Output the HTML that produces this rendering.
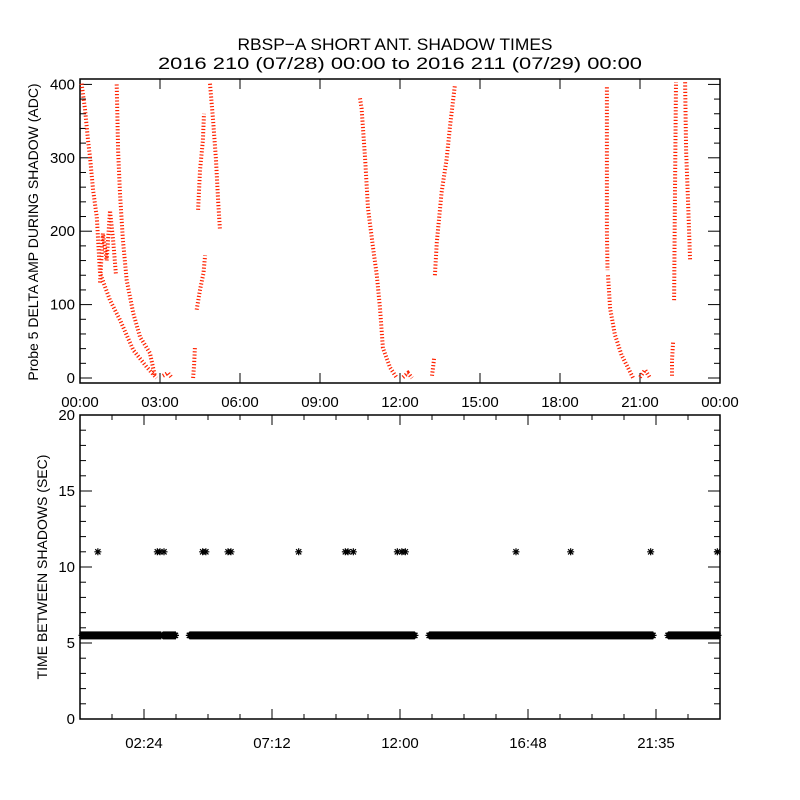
<!DOCTYPE html>
<html><head><meta charset="utf-8"><style>
html,body{margin:0;padding:0;background:#fff;}
svg{display:block;font-family:"Liberation Sans",sans-serif;}
</style></head><body>
<svg id="chart" width="800" height="800" viewBox="0 0 800 800" xmlns="http://www.w3.org/2000/svg">
<rect width="800" height="800" fill="#fff"/>
<text x="395" y="50" font-size="17" text-anchor="middle" textLength="315" lengthAdjust="spacingAndGlyphs">RBSP−A SHORT ANT. SHADOW TIMES</text>
<text x="400" y="69" font-size="17" text-anchor="middle" textLength="484" lengthAdjust="spacingAndGlyphs">2016 210 (07/28) 00:00 to 2016 211 (07/29) 00:00</text>
<g id="topPanel"></g>
<g id="botPanel"></g>
</svg>
<script>
// ---- top panel data (hours, ADC) ----
const topXTicks = ["00:00","03:00","06:00","09:00","12:00","15:00","18:00","21:00","00:00"];
const topYTicks = [0,100,200,300,400];
const clusterA1 = [[0.06,401],[0.19,365],[0.3,324],[0.375,301],[0.49,256],[0.63,219],[0.75,143],[1.125,106],[1.5,79],[2.0,38],[2.5,15],[2.87,0]];
const clusterA2 = [[0.75,130],[0.86,197],[1.0,160],[1.125,228],[1.24,188],[1.35,140]];
const clusterA3 = [[1.375,400],[1.43,310],[1.5,251],[1.61,188],[1.75,133],[2.0,88],[2.25,56],[2.62,34],[2.8,4]];
const clusterB = [[3.11,3],[3.3,7],[3.45,0]];
const clusterC1 = [[4.24,0],[4.28,18],[4.31,41]];
const clusterC2 = [[4.375,93],[4.5,120],[4.63,143],[4.69,167]];
const clusterC3 = [[4.43,229],[4.5,283],[4.61,324],[4.65,360]];
const clusterC4 = [[4.875,401],[4.99,351],[5.1,297],[5.18,242],[5.25,201]];
const clusterD1 = [[10.5,381],[10.56,367],[10.69,299],[10.8,231],[10.99,177],[11.13,140],[11.25,95],[11.36,41],[11.63,14],[11.88,0]];
const clusterD2 = [[12.11,1],[12.3,7],[12.45,0]];
const clusterE1 = [[13.2,3],[13.24,15],[13.28,27]];
const clusterE2 = [[13.31,140],[13.38,185],[13.56,253],[13.75,299],[13.88,344],[14.06,399]];
const clusterF1 = [[19.76,396],[19.76,310],[19.76,201],[19.78,147]];
const clusterF2 = [[19.8,140],[19.88,95],[20.06,59],[20.31,31],[20.55,14],[20.74,0]];
const clusterF3 = [[21.0,1],[21.19,11],[21.38,0]];
const clusterG1 = [[22.2,3],[22.2,24],[22.24,49]];
const clusterG2 = [[22.28,106],[22.31,242],[22.35,403]];
const clusterH = [[22.69,403],[22.73,310],[22.8,242],[22.88,160]];
// ---- bottom panel data ----
const botXTicks = ["02:24","07:12","12:00","16:48","21:35"];
const botYTicks = [0,5,10,15,20];
const bandValue = 5.5;
const bandIntervals = [[0,3.05],[3.1,3.6],[4.1,12.56],[13.09,21.5],[22.05,24]];
const longGapTimes = [0.67,2.9,3.0,3.15,4.6,4.72,5.55,5.66,8.2,9.95,10.05,10.25,11.9,12.07,12.2,16.35,18.4,21.4,23.9];
const longGapValue = 11;

const NS="http://www.w3.org/2000/svg";
function mk(tag,attrs,parent){const e=document.createElementNS(NS,tag);for(const k in attrs)e.setAttribute(k,attrs[k]);parent.appendChild(e);return e;}
const L=80,R=720;
const xH=h=>L+h/24*(R-L);
// top axis
const tT=79,tB=383;
const yTop=v=>378-v*0.734;
const topG=document.getElementById('topPanel');
const tf=mk('rect',{x:L,y:tT,width:R-L,height:tB-tT,fill:'none',stroke:'#000','stroke-width':1.5},topG);


topXTicks.forEach((t,i)=>{const x=L+i*(R-L)/8;
 mk('line',{x1:x,x2:x,y1:tB,y2:tB-10,stroke:'#000'},topG);
 mk('line',{x1:x,x2:x,y1:tT,y2:tT+10,stroke:'#000'},topG);
 const tx=mk('text',{x:x,y:407,'font-size':15,'text-anchor':'middle'},topG);tx.textContent=t;
 
 
});
for(let v=0;v<=400;v+=20){const y=yTop(v);const len=v%100===0?12:6;
 mk('line',{x1:L,x2:L+len,y1:y,y2:y,stroke:'#000'},topG);
 mk('line',{x1:R,x2:R-len,y1:y,y2:y,stroke:'#000'},topG);}
topYTicks.forEach(v=>{const tx=mk('text',{x:75,y:yTop(v)+5,'font-size':15,'text-anchor':'end'},topG);tx.textContent=v;
 
 });
const ty=mk('text',{x:38,y:232,'font-size':14,'text-anchor':'middle',transform:'rotate(-90 38 232)'},topG);
ty.textContent='Probe 5 DELTA AMP DURING SHADOW (ADC)';


const clusters=[clusterA1,clusterA2,clusterA3,clusterB,clusterC1,clusterC2,clusterC3,clusterC4,clusterD1,clusterD2,clusterE1,clusterE2,clusterF1,clusterF2,clusterF3,clusterG1,clusterG2,clusterH];
clusters.forEach((c,i)=>{
 const pts=c.map(p=>xH(p[0]).toFixed(1)+','+yTop(p[1]).toFixed(1)).join(' ');
 const pl=mk('polyline',{points:pts,fill:'none',stroke:'#ff2200','stroke-width':4,'stroke-dasharray':'1.2 2'},topG);
 
 
});
// bottom
const bT=415,bB=719;
const yBot=v=>bB-v*(bB-bT)/20;
const botG=document.getElementById('botPanel');
const bf=mk('rect',{x:L,y:bT,width:R-L,height:bB-bT,fill:'none',stroke:'#000','stroke-width':1.5},botG);


for(let i=1;i<20;i++){const x=L+i*32;const major=(i-2)%4===0;const len=major?10:5;
 mk('line',{x1:x,x2:x,y1:bB,y2:bB-len,stroke:'#000'},botG);
 mk('line',{x1:x,x2:x,y1:bT,y2:bT+len,stroke:'#000'},botG);}
botXTicks.forEach((t,i)=>{const x=L+(2+4*i)*32;const tx=mk('text',{x:x,y:748,'font-size':15,'text-anchor':'middle'},botG);tx.textContent=t;
 
 });
for(let v=0;v<=20;v++){const y=yBot(v);const len=v%5===0?12:6;
 mk('line',{x1:L,x2:L+len,y1:y,y2:y,stroke:'#000'},botG);
 mk('line',{x1:R,x2:R-len,y1:y,y2:y,stroke:'#000'},botG);}
botYTicks.forEach(v=>{const tx=mk('text',{x:75,y:yBot(v)+5,'font-size':15,'text-anchor':'end'},botG);tx.textContent=v;
 
 });
const by=mk('text',{x:47,y:567,'font-size':14,'text-anchor':'middle',transform:'rotate(-90 47 567)'},botG);
by.textContent='TIME BETWEEN SHADOWS (SEC)';


function star(x,y){return `M${x-3.5},${y}h7M${x},${y-3.5}v7M${x-2.6},${y-2.6}l5.2,5.2M${x-2.6},${y+2.6}l5.2,-5.2`;}
bandIntervals.forEach((iv,i)=>{
 let d='';const y=yBot(bandValue);
 for(let h=iv[0];h<=iv[1];h+=0.03){d+=star(Math.max(L+2,Math.min(R-2,xH(h))),y);}
 const p=mk('path',{d:d,stroke:'#000','stroke-width':1.2,fill:'none'},botG);
 
 
 const r=mk('rect',{x:Math.max(L,xH(iv[0])),y:y-4,width:Math.min(R,xH(iv[1]))-Math.max(L,xH(iv[0])),height:8,fill:'#000'},botG);
 
 
});
longGapTimes.forEach(h=>{
 const p=mk('path',{d:star(Math.min(R-2,xH(h)),yBot(longGapValue)),stroke:'#000','stroke-width':1.2,fill:'none'},botG);
 
 
});
</script>
</body></html>
